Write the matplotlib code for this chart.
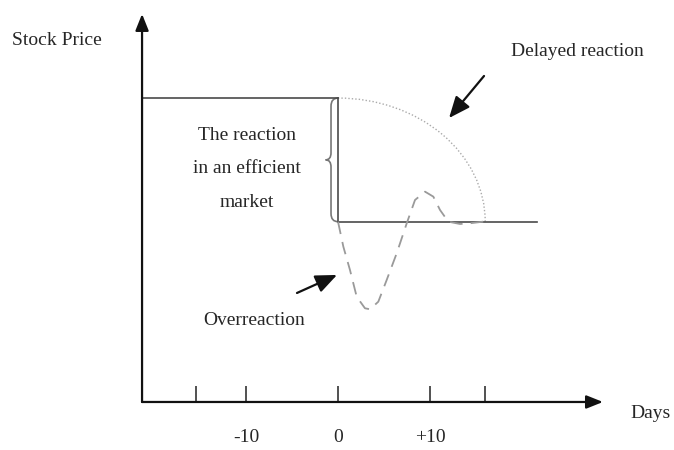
import matplotlib
matplotlib.use('Agg')
import matplotlib.pyplot as plt
from matplotlib.patches import Arc, PathPatch
from matplotlib.path import Path

# ---- data (days relative to event, price levels) ----
tick_days = [-15.4, -10, 0, 10, 16]
tick_labels = ['', '-10', '0', '+10', '']
price_before = 30.0
price_after = 17.8
pre_start_day = -21.3
post_end_day = 21.6
delay_end_day = 16.0
over_days = [0, 0.58, 1.30, 2.03, 2.93, 3.48, 4.38, 5.29, 6.38, 7.47, 8.37,
             9.46, 10.36, 11.09, 11.99, 13.26, 14.35, 15.79]
over_price = [17.8, 15.33, 13.03, 10.39, 9.25, 9.15, 9.90, 12.04, 14.68, 17.64,
              19.94, 20.76, 20.27, 18.95, 17.80, 17.57, 17.64, 17.80]

plt.rcParams['font.family'] = ['Liberation Serif', 'DejaVu Serif']
FS = 14
TXT = '#262626'
LINE = '#4a4a4a'

fig = plt.figure(figsize=(6.74, 4.5), dpi=100)
ax = fig.add_axes([0, 0, 1, 1])
ax.set_xlim(-36.74, 36.52)
ax.set_ylim(-4.74, 39.68)
ax.axis('off')

# axes with arrows
axis_x0 = pre_start_day
ax.annotate('', xy=(axis_x0, 38.3), xytext=(axis_x0, 0),
            arrowprops=dict(arrowstyle='-|>,head_length=1.0,head_width=0.4',
                            mutation_scale=10, color='#111', lw=1.6,
                            shrinkA=0, shrinkB=0))
ax.annotate('', xy=(28.8, 0), xytext=(axis_x0, 0),
            arrowprops=dict(arrowstyle='-|>,head_length=1.0,head_width=0.4',
                            mutation_scale=10, color='#111', lw=1.6,
                            shrinkA=0, shrinkB=0))

# ticks
for d, lab in zip(tick_days, tick_labels):
    ax.plot([d, d], [0, 1.6], color='#222', lw=1.1, solid_capstyle='butt')
    if lab:
        ax.text(d, -3.55, lab, ha='center', va='center', fontsize=FS, color=TXT)

# price levels
ax.plot([pre_start_day, 0], [price_before, price_before], color=LINE, lw=1.2)
ax.plot([0, 0], [price_before, price_after], color=LINE, lw=1.2)
ax.plot([0, post_end_day], [price_after, price_after], color=LINE, lw=1.2)

# brace
bx = -0.76
tip = -1.35
mid = (price_before + price_after) / 2
verts = [(0, price_before), (bx, price_before), (bx, price_before - 0.8),
         (bx, mid + 0.7), (bx, mid), (tip, mid), (bx, mid), (bx, mid - 0.7),
         (bx, price_after + 0.8), (bx, price_after), (0, price_after)]
codes = [Path.MOVETO, Path.CURVE3, Path.CURVE3,
         Path.LINETO, Path.CURVE3, Path.CURVE3, Path.CURVE3, Path.CURVE3,
         Path.LINETO, Path.CURVE3, Path.CURVE3]
ax.add_patch(PathPatch(Path(verts, codes), fill=False, edgecolor='#777', lw=1.2))

# delayed reaction (dotted quarter curve)
ax.add_patch(Arc((0, price_after), width=2 * delay_end_day,
                 height=2 * (price_before - price_after), theta1=0, theta2=90,
                 color='#aaaaaa', lw=1.0, linestyle=(0, (1, 1.5))))

# overreaction (dashed)
ax.plot(over_days, over_price, color='#9a9a9a', lw=1.3, linestyle=(0, (7, 4.5)))

# annotation arrows
ax.annotate('', xy=(12.07, 28.03), xytext=(15.87, 32.18),
            arrowprops=dict(arrowstyle='-|>,head_length=1.3,head_width=0.55',
                            mutation_scale=10, color='#111', lw=1.6,
                            shrinkA=0, shrinkB=0))
ax.annotate('', xy=(-0.11, 12.54), xytext=(-4.46, 10.76),
            arrowprops=dict(arrowstyle='-|>,head_length=1.3,head_width=0.55',
                            mutation_scale=10, color='#111', lw=1.6,
                            shrinkA=0, shrinkB=0))

# texts
ax.text(-30.54, 35.64, 'Stock Price', ha='center', va='center', fontsize=FS, color=TXT)
ax.text(25.98, 34.55, 'Delayed reaction', ha='center', va='center', fontsize=FS, color=TXT)
ax.text(-9.89, 23.0, 'The reaction\nin an efficient\nmarket', ha='center', va='center',
        fontsize=FS, color=TXT, linespacing=2.3)
ax.text(-9.13, 8.09, 'Overreaction', ha='center', va='center', fontsize=FS, color=TXT)
ax.text(34.0, -1.09, 'Days', ha='center', va='center', fontsize=FS, color=TXT)

fig.savefig('out.png', dpi=100)
